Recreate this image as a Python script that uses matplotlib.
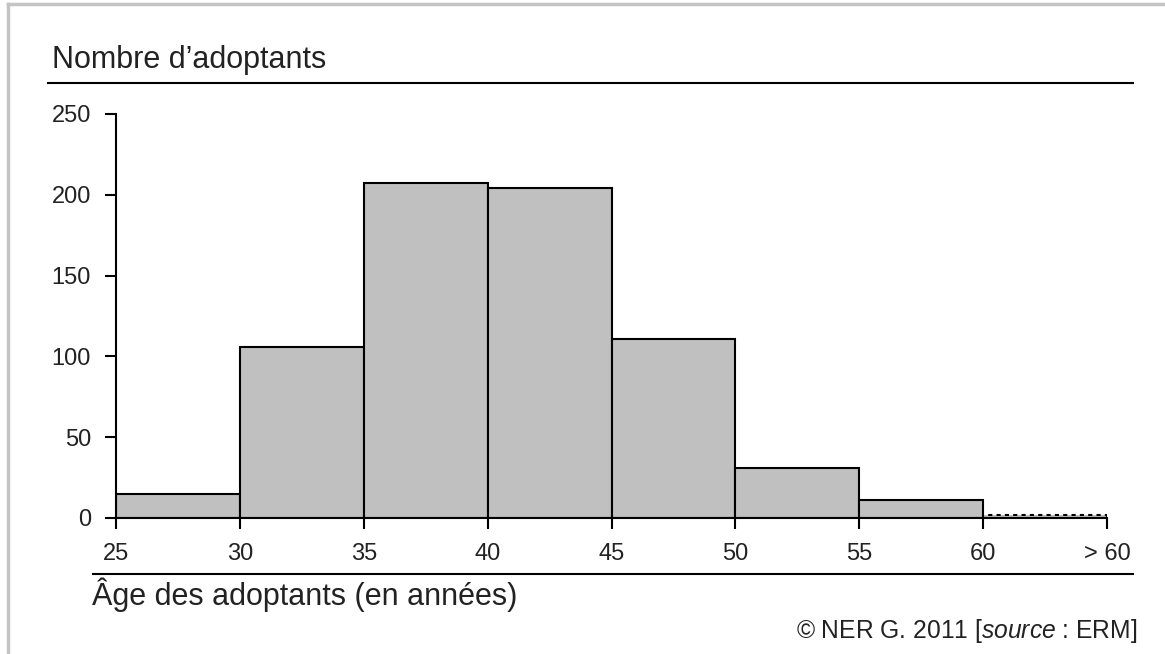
import matplotlib.pyplot as plt
from matplotlib.lines import Line2D

plt.rcParams['font.family'] = ['Liberation Sans', 'DejaVu Sans']
plt.rcParams['mathtext.fontset'] = 'custom'
plt.rcParams['mathtext.it'] = 'Liberation Sans:italic'
plt.rcParams['mathtext.rm'] = 'Liberation Sans'

# classes d'age (bornes gauches) et effectifs
bins_left = [25, 30, 35, 40, 45, 50, 55]
counts = [15, 106, 207, 204, 111, 31, 11]
over_60 = 2
tick_pos = [25, 30, 35, 40, 45, 50, 55, 60, 65]
tick_labels = ['25', '30', '35', '40', '45', '50', '55', '60', '> 60']
y_ticks = [0, 50, 100, 150, 200, 250]

W, H = 1165, 654
fig = plt.figure(figsize=(W / 100, H / 100), dpi=100)
ax = fig.add_axes([116 / W, 1 - 518 / H, (1107 - 116) / W, (518 - 114) / H])

ax.bar(bins_left, counts, width=5, align='edge', color='#c0c0c0',
       edgecolor='black', linewidth=1.5)
ax.bar([60], [over_60], width=5, align='edge', color='#c0c0c0',
       edgecolor='black', linewidth=1.5, linestyle=(0, (2, 2)))

ax.set_xlim(25, 65)
ax.set_ylim(0, 250)
ax.set_xticks(tick_pos)
ax.set_xticklabels(tick_labels)
ax.set_yticks(y_ticks)
for s in ['top', 'right']:
    ax.spines[s].set_visible(False)
for s in ['left', 'bottom']:
    ax.spines[s].set_linewidth(1.5)
ax.tick_params(axis='both', length=8, width=1.5, labelsize=17, colors='black',
               labelcolor='#222222')
ax.tick_params(axis='x', pad=10)
ax.tick_params(axis='y', pad=10)
ax.set_axisbelow(False)

def fx(px):
    return px / W

def fy(py):
    return 1 - py / H

# cadre gris
fig.add_artist(Line2D([fx(8), 1], [fy(4), fy(4)], color='#c4c4c4', lw=2.5))
fig.add_artist(Line2D([fx(8), fx(8)], [fy(4), 0], color='#c4c4c4', lw=2.5))

# lignes de titre
fig.add_artist(Line2D([fx(48), fx(1133)], [fy(83), fy(83)], color='black', lw=1.5))
fig.add_artist(Line2D([fx(93), fx(1133)], [fy(574), fy(574)], color='black', lw=1.5))

fig.text(fx(52), fy(68), 'Nombre d\u2019adoptants', fontsize=22, va='baseline', ha='left', color='#222222')
fig.text(fx(92), fy(605), 'Âge des adoptants (en années)', fontsize=22, va='baseline', ha='left', color='#222222')
fig.text(fx(1137), fy(638), '© NER G. 2011 [$\\it{source}$ : ERM]', fontsize=17.7, va='baseline', ha='right', color='#222222')

fig.savefig('out.png', dpi=100)
